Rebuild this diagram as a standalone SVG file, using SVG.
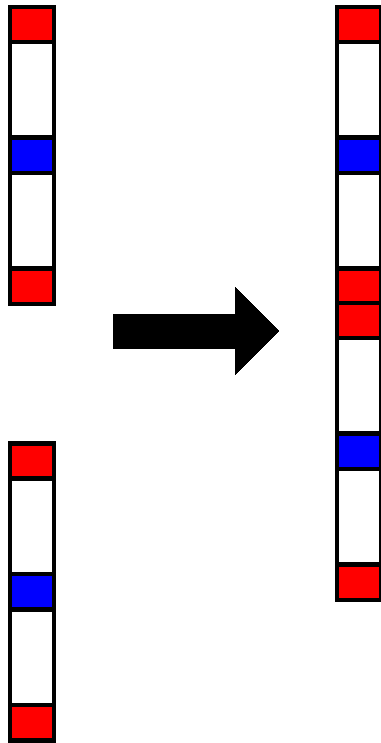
<svg xmlns="http://www.w3.org/2000/svg" width="381" height="743" viewBox="0 0 381 743">
<style>
rect{stroke:#000;stroke-width:4.5;shape-rendering:crispEdges}
.r{fill:#ff0000}.b{fill:#0000ff}.w{fill:#ffffff}
.arrow{fill:#000;shape-rendering:crispEdges}
</style>
<defs>
<g id="col">
<rect class="w" x="0" y="0" width="44" height="297"/>
<rect class="r" x="0" y="0" width="44" height="35"/>
<rect class="b" x="0" y="130.7" width="44" height="35.3"/>
<rect class="r" x="0" y="261.7" width="44" height="35.3"/>
</g>
</defs>
<rect x="0" y="0" width="381" height="743" fill="#fff" style="stroke:none"/>
<g id="left-top"><use href="#col" x="10" y="7"/></g>
<g id="left-bottom"><use href="#col" x="10" y="443.3"/></g>
<g id="right-top"><use href="#col" x="337" y="7"/></g>
<g id="right-bottom"><use href="#col" x="337" y="303"/></g>
<g id="connectors">
<polygon class="arrow" points="113,314 235,314 235,287 279,331 235,375 235,349 113,349"/>
</g>
</svg>
